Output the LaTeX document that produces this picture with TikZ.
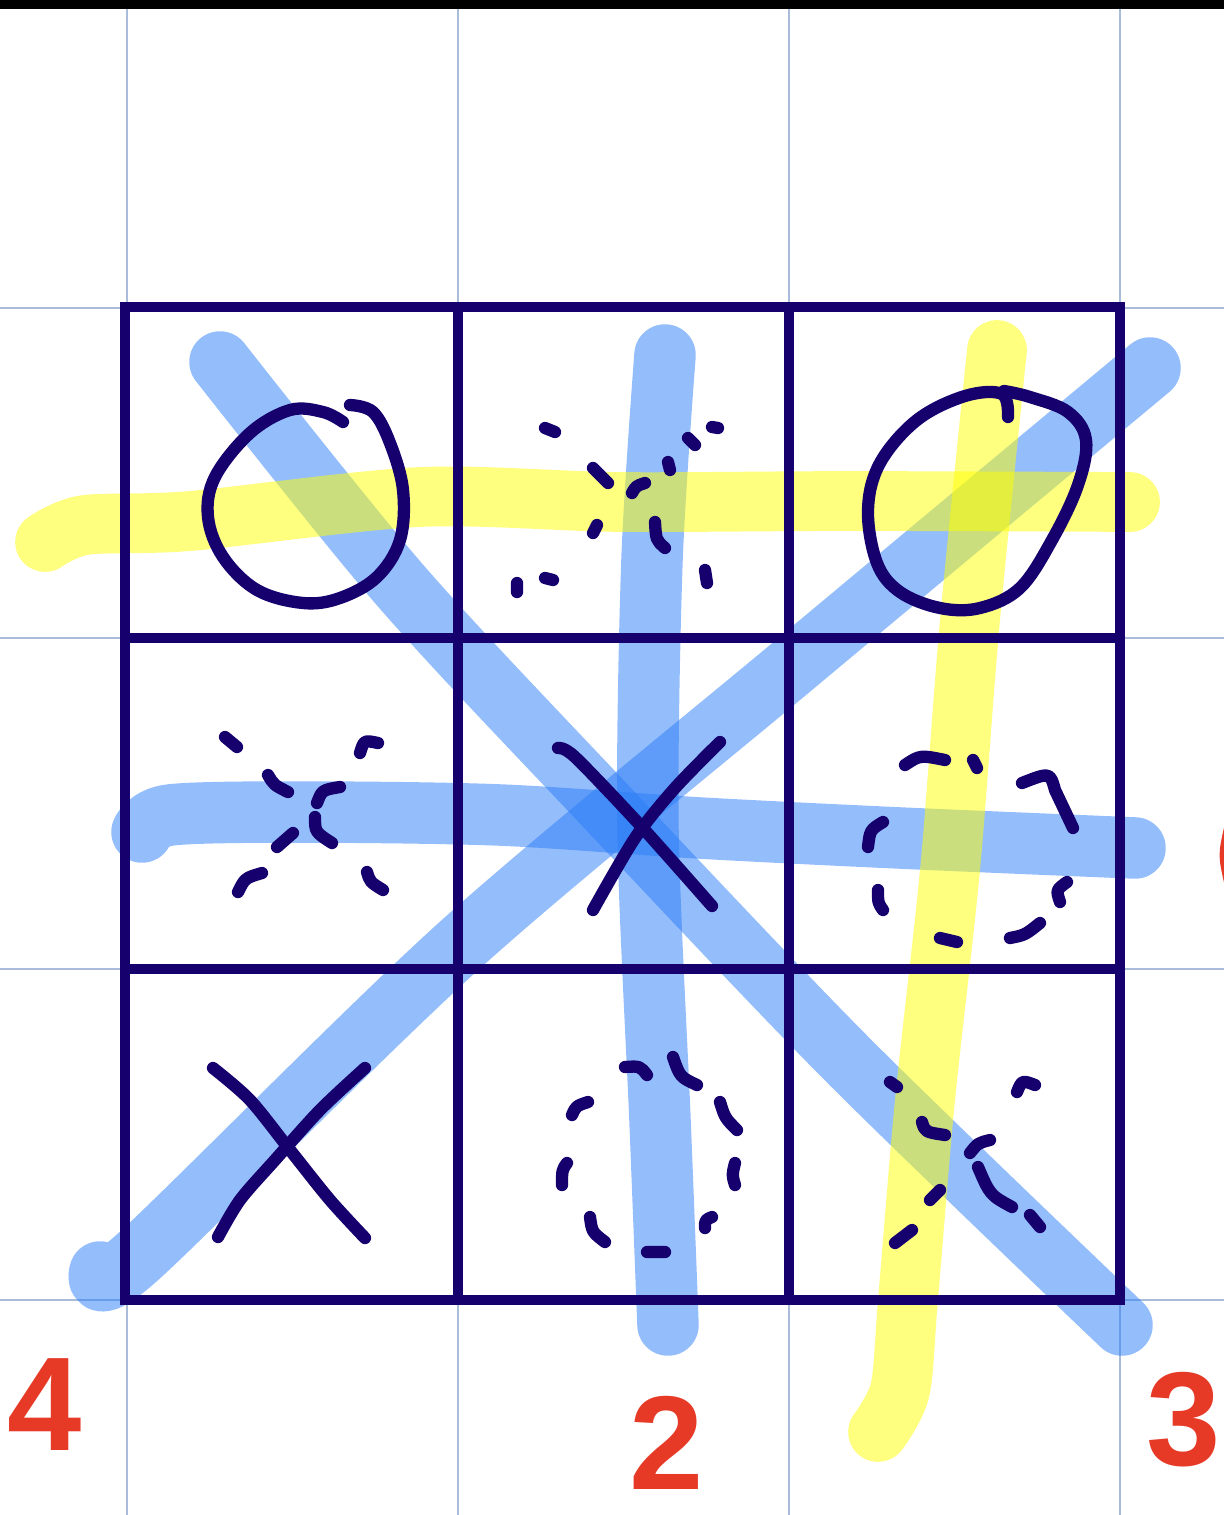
\documentclass[tikz,border=0pt]{standalone}
\usepackage{fontspec}
\newfontfamily\handfont{Liberation Sans}

\definecolor{ink}{HTML}{16006E}
\definecolor{gridblue}{HTML}{A9BDDA}
\definecolor{hlblue}{HTML}{2A7CF7}
\definecolor{hlyellow}{HTML}{FFFF00}
\definecolor{pencilred}{HTML}{E63A27}

\begin{document}
\begin{tikzpicture}[
    x=0.02cm, y=-0.02cm,
    gridline/.style={draw=gridblue, line width=1.3pt},
    bluehl/.style={draw=hlblue, draw opacity=0.5, line width=35pt, line cap=round, line join=round},
    yellowhl/.style={draw=hlyellow, draw opacity=0.5, line width=34pt, line cap=round, line join=round},
    boardline/.style={draw=ink, line width=6pt},
    pen/.style={draw=ink, line width=7pt, line cap=round, line join=round},
    digit/.style={text=pencilred, font=\handfont\bfseries\fontsize{76}{76}\selectfont, inner sep=0pt}
]
\useasboundingbox (0,0) rectangle (1224,1515);

% Top bar
\fill[black] (0,0) rectangle (1224,9);

% Paper grid
\foreach \gx in {127,458,789,1120}
    \draw[gridline] (\gx,9) -- (\gx,1515);
\foreach \gy in {308,638,969,1300}
    \draw[gridline] (0,\gy) -- (1224,\gy);

% Blue highlight strokes
\draw[bluehl] plot [smooth, tension=0.5] coordinates {
    (220,362) (400,585) (600,800) (848,1060) (1122,1325)
};
\draw[bluehl] plot [smooth, tension=0.5] coordinates {
    (100,1272) (140,1255) (460,945) (800,660) (1150,368)
};
\draw[bluehl] plot [smooth, tension=0.5] coordinates {
    (665,355) (652,560) (648,830) (660,1120) (668,1325)
};
\draw[bluehl] plot [smooth, tension=0.5] coordinates {
    (142,832) (170,815) (300,812) (500,815) (700,828) (900,838) (1135,848)
};

% Yellow highlight strokes
\draw[yellowhl] plot [smooth, tension=0.5] coordinates {
    (45,542) (85,525) (190,521) (420,497) (620,502) (850,501) (1130,502)
};
\draw[yellowhl] plot [smooth, tension=0.5] coordinates {
    (997,350) (970,620) (950,870) (925,1100) (908,1300) (900,1390) (878,1432)
};

% Board
\draw[boardline] (125,307) rectangle (1120,1300);
\draw[boardline] (458,307) -- (458,1300);
\draw[boardline] (789,307) -- (789,1300);
\draw[boardline] (125,638) -- (1120,638);
\draw[boardline] (125,969) -- (1120,969);

% O top left
\draw[pen] plot [smooth, tension=0.6] coordinates {
    (343,422) (323,412) (290,410) (250,433) (215,477) (208,517) (223,557) (257,590)
    (303,603) (340,598) (377,577) (400,540) (403,490) (390,443) (373,412) (350,405)
};

% O top right
\draw[pen] plot [smooth, tension=0.6] coordinates {
    (1008,417) (1002,394) (965,396) (917,420) (880,463) (868,510) (877,563) (900,592)
    (940,608) (980,608) (1020,588) (1052,540) (1078,485) (1086,440) (1068,412) (1030,397) (1004,391)
};

% X centre
\draw[pen] plot [smooth, tension=0.5] coordinates {(558,748) (575,757) (640,825) (712,906)};
\draw[pen] plot [smooth, tension=0.5] coordinates {(720,742) (675,788) (635,838) (593,910)};

% X bottom left
\draw[pen] plot [smooth, tension=0.5] coordinates {(213,1068) (250,1100) (290,1150) (330,1200) (365,1238)};
\draw[pen] plot [smooth, tension=0.5] coordinates {(365,1068) (320,1110) (275,1160) (240,1200) (218,1237)};

% Dashed X top middle
\draw[pen] (545,428) -- (555,432)
    (593,468) -- (608,483)
    (632,493) .. controls (636,486) .. (645,483)
    (597,525) -- (593,533)
    (655,522) .. controls (656,540) .. (665,548)
    (668,462) -- (670,470)
    (688,438) -- (695,445)
    (712,427) -- (718,428)
    (545,578) -- (553,580)
    (517,583) -- (517,592)
    (705,570) -- (707,583);

% Dashed X middle left
\draw[pen] (225,737) -- (237,747)
    (268,775) .. controls (274,785) .. (288,792)
    (317,803) .. controls (322,790) .. (340,787)
    (315,817) .. controls (315,832) .. (332,843)
    (293,833) -- (277,847)
    (262,873) .. controls (245,878) .. (238,892)
    (360,753) .. controls (364,740) .. (378,743)
    (367,872) .. controls (370,882) .. (383,890);

% Dashed O middle right
\draw[pen] (905,765) .. controls (920,755) .. (945,760)
    (973,760) -- (977,768)
    (1022,783) .. controls (1050,772) .. (1055,790) -- (1073,828)
    (883,822) .. controls (870,830) .. (868,847)
    (878,890) .. controls (878,903) .. (883,910)
    (1067,882) .. controls (1056,890) .. (1060,902)
    (940,938) -- (957,942)
    (1010,938) .. controls (1025,935) .. (1040,923);

% Dashed O bottom middle
\draw[pen] (625,1067) .. controls (640,1066) .. (647,1075)
    (673,1057) .. controls (680,1077) .. (697,1085)
    (588,1102) .. controls (576,1106) .. (572,1115)
    (720,1102) .. controls (725,1118) .. (737,1130)
    (567,1163) .. controls (562,1170) .. (562,1185)
    (735,1163) .. controls (732,1175) .. (735,1185)
    (590,1217) .. controls (592,1232) .. (605,1242)
    (712,1217) .. controls (705,1220) .. (705,1228)
    (647,1252) -- (665,1252);

% Dashed X bottom right
\draw[pen] (890,1082) -- (897,1087)
    (922,1122) .. controls (925,1132) .. (945,1135)
    (970,1153) .. controls (978,1143) .. (990,1140)
    (978,1167) .. controls (990,1195) .. (1012,1207)
    (1030,1215) -- (1040,1227)
    (940,1190) -- (930,1200)
    (912,1230) -- (895,1243)
    (1017,1092) .. controls (1022,1080) .. (1035,1085);

% Red labels
\node[digit] (four) at (45,1405) {4};
\node[digit] (two) at (667,1443) {2};
\node[digit] (three) at (1184,1420) {3};
\draw[pencilred, line width=9pt, line cap=round] (1232,828) .. controls (1226,855) .. (1232,882);

\end{tikzpicture}
\end{document}
